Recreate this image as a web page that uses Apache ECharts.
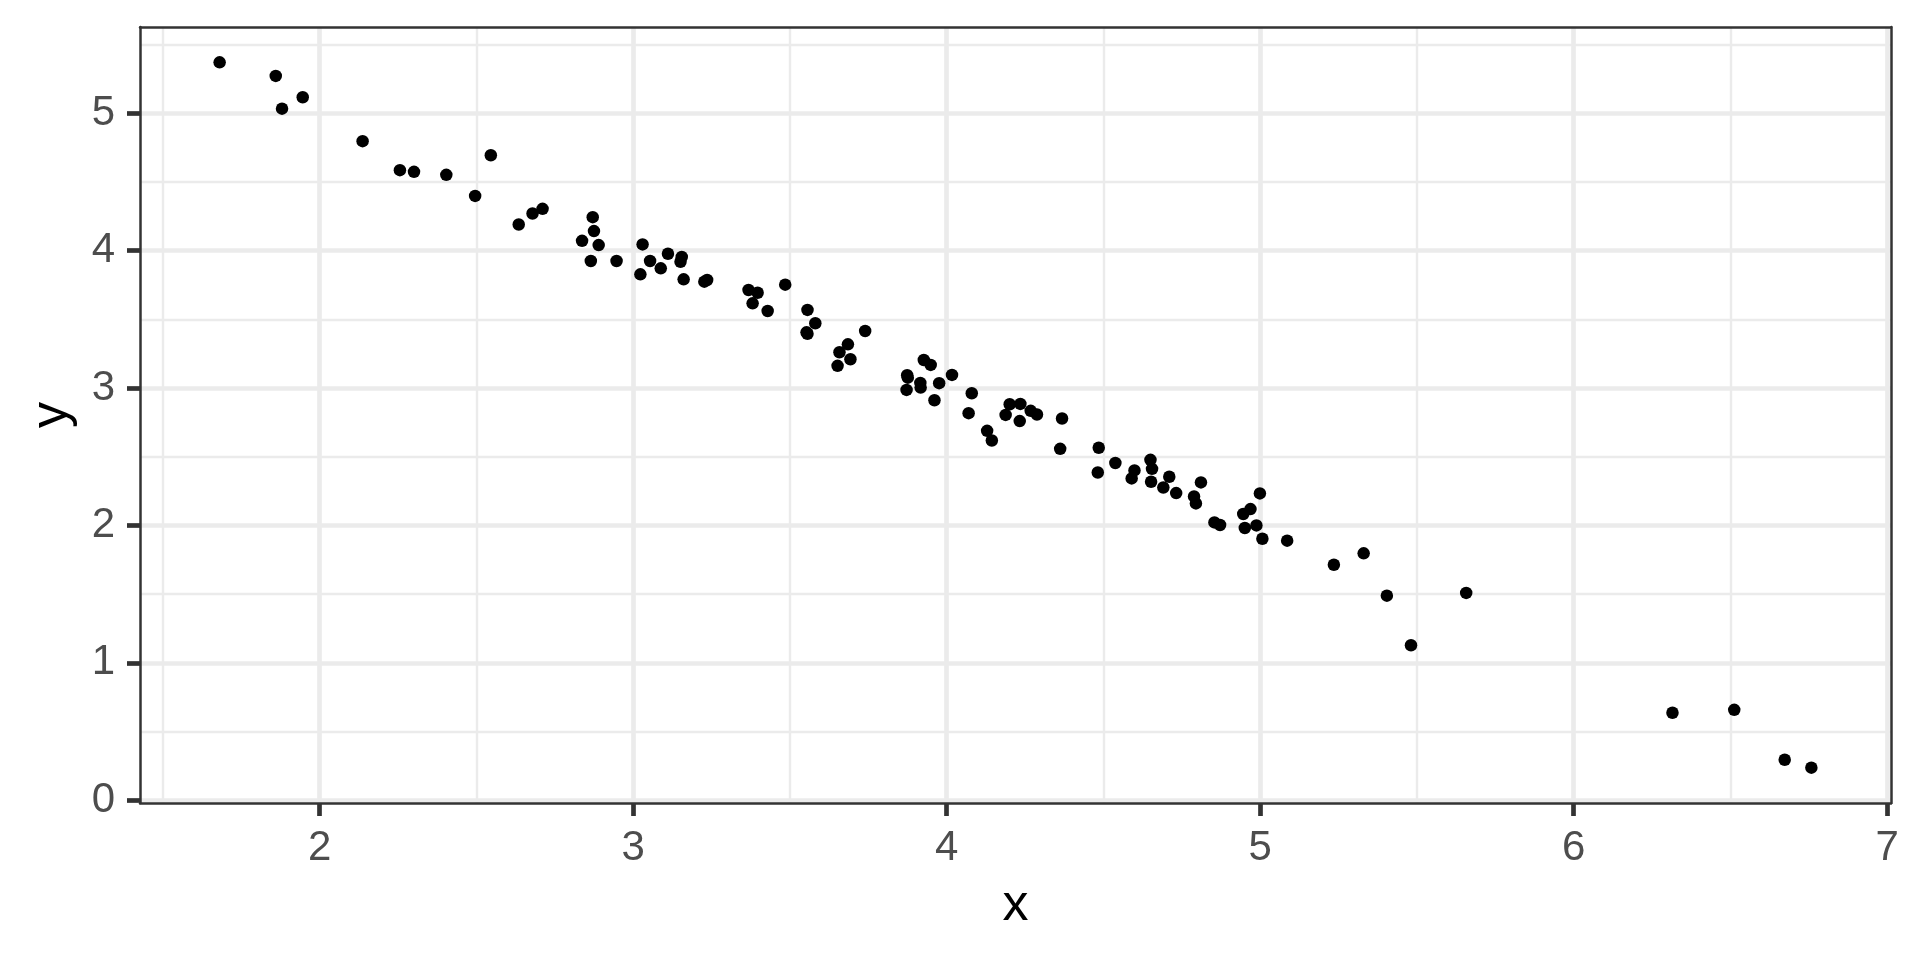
<!DOCTYPE html>
<html>
<head>
<meta charset="utf-8">
<script src="https://cdn.jsdelivr.net/npm/echarts@6/dist/echarts.min.js"></script>
<style>
html,body{margin:0;padding:0;background:#ffffff;}
#chart{width:1920px;height:960px;}
</style>
</head>
<body>
<div id="chart"></div>
<script>
// ---- data ----
const xValues = [
  1.681, 1.860, 1.880, 1.946, 2.137, 2.256, 2.301, 2.404, 2.546, 2.496,
  2.635, 2.679, 2.711, 2.871, 2.875, 2.837, 2.890, 2.865, 2.947, 3.030,
  3.023, 3.054, 3.088, 3.111, 3.155, 3.151, 3.161, 3.227, 3.236, 3.368,
  3.397, 3.381, 3.429, 3.485, 3.556, 3.581, 3.553, 3.556, 3.685, 3.658,
  3.693, 3.652, 3.740, 3.927, 3.949, 3.874, 3.876, 3.916, 3.917, 3.872,
  3.976, 4.017, 3.961, 4.080, 4.070, 4.129, 4.144, 4.201, 4.235, 4.188,
  4.233, 4.268, 4.288, 4.368, 4.362, 4.485, 4.482, 4.538, 4.599, 4.590,
  4.650, 4.655, 4.652, 4.691, 4.710, 4.732, 4.811, 4.789, 4.795, 4.854,
  4.872, 4.946, 4.969, 4.999, 4.951, 4.988, 5.007, 5.086, 5.235, 5.330,
  5.404, 5.657, 5.481, 6.315, 6.512, 6.673, 6.758
];
const yValues = [
  5.370, 5.271, 5.033, 5.116, 4.796, 4.585, 4.573, 4.551, 4.694, 4.398,
  4.190, 4.270, 4.304, 4.243, 4.142, 4.071, 4.040, 3.924, 3.924, 4.045,
  3.827, 3.924, 3.871, 3.977, 3.953, 3.919, 3.791, 3.774, 3.786, 3.713,
  3.693, 3.616, 3.560, 3.752, 3.568, 3.471, 3.405, 3.395, 3.318, 3.260,
  3.209, 3.161, 3.415, 3.204, 3.168, 3.093, 3.075, 3.037, 3.003, 2.986,
  3.035, 3.095, 2.911, 2.962, 2.817, 2.688, 2.618, 2.882, 2.884, 2.804,
  2.759, 2.834, 2.807, 2.778, 2.557, 2.565, 2.385, 2.454, 2.400, 2.342,
  2.477, 2.412, 2.318, 2.276, 2.354, 2.235, 2.313, 2.211, 2.160, 2.022,
  2.003, 2.083, 2.119, 2.233, 1.981, 2.000, 1.903, 1.889, 1.714, 1.797,
  1.489, 1.509, 1.128, 0.637, 0.658, 0.295, 0.237
];
const xTicks = [2, 3, 4, 5, 6, 7];
const yTicks = [0, 1, 2, 3, 4, 5];
const xMinorGrid = [1.5, 2.5, 3.5, 4.5, 5.5, 6.5];
const yMinorGrid = [0.5, 1.5, 2.5, 3.5, 4.5, 5.5];
const xTitle = 'x';
const yTitle = 'y';
const xRange = [1.427, 7.012];
const yRange = [-0.02, 5.627];

// ---- build ----
const points = xValues.map((x, i) => [x, yValues[i]]);
const FONT = '"Liberation Sans", Arial, Helvetica, sans-serif';
const BORDER = '#333333';
const GRID = '#EBEBEB';

const gridLines = [].concat(
  xMinorGrid.map(v => ({ xAxis: v, lineStyle: { width: 2.4 } })),
  yMinorGrid.map(v => ({ yAxis: v, lineStyle: { width: 2.4 } })),
  xTicks.map(v => ({ xAxis: v, lineStyle: { width: 4.7 } })),
  yTicks.map(v => ({ yAxis: v, lineStyle: { width: 4.7 } }))
);

function frameAxis(pos, range) {
  return {
    type: 'value', position: pos, min: range[0], max: range[1], z: 3,
    axisLine: { show: true, onZero: false, lineStyle: { color: BORDER, width: 2.5 } },
    axisTick: { show: false }, axisLabel: { show: false }, splitLine: { show: false }
  };
}

const chart = echarts.init(document.getElementById('chart'), null, { renderer: 'canvas' });
chart.setOption({
  animation: false,
  backgroundColor: '#ffffff',
  grid: { left: 140, top: 27, width: 1751, height: 776, containLabel: false, outerBoundsMode: 'none', show: false },
  xAxis: [
    {
      type: 'value', position: 'bottom', min: xRange[0], max: xRange[1], z: 3,
      name: xTitle, nameLocation: 'middle', nameGap: 77,
      nameTextStyle: { color: '#000000', fontSize: 52, fontFamily: FONT },
      axisLine: { show: true, onZero: false, lineStyle: { color: BORDER, width: 2.5 } },
      axisTick: { show: true, customValues: xTicks, length: 13, lineStyle: { color: BORDER, width: 4.7 } },
      axisLabel: { show: true, customValues: xTicks, color: '#4D4D4D', fontSize: 42, fontFamily: FONT, margin: 24 },
      splitLine: { show: false }, minorTick: { show: false }, minorSplitLine: { show: false }
    },
    frameAxis('top', xRange)
  ],
  yAxis: [
    {
      type: 'value', position: 'left', min: yRange[0], max: yRange[1], z: 3,
      name: yTitle, nameLocation: 'middle', nameGap: 62,
      nameTextStyle: { color: '#000000', fontSize: 52, fontFamily: FONT },
      axisLine: { show: true, onZero: false, lineStyle: { color: BORDER, width: 2.5 } },
      axisTick: { show: true, customValues: yTicks, length: 13, lineStyle: { color: BORDER, width: 4.7 } },
      axisLabel: { show: true, customValues: yTicks, color: '#4D4D4D', fontSize: 42, fontFamily: FONT, margin: 25 },
      splitLine: { show: false }, minorTick: { show: false }, minorSplitLine: { show: false }
    },
    frameAxis('right', yRange)
  ],
  series: [
    {
      type: 'scatter', xAxisIndex: 0, yAxisIndex: 0, z: 2,
      data: points, symbol: 'circle', symbolSize: 12.5,
      itemStyle: { color: '#000000', opacity: 1 },
      emphasis: { disabled: true }, silent: true,
      markLine: {
        silent: true, z: 1, symbol: ['none', 'none'], animation: false,
        label: { show: false }, emphasis: { disabled: true },
        lineStyle: { color: GRID, type: 'solid', width: 2.4 },
        data: gridLines
      }
    }
  ]
});
</script>
</body>
</html>
